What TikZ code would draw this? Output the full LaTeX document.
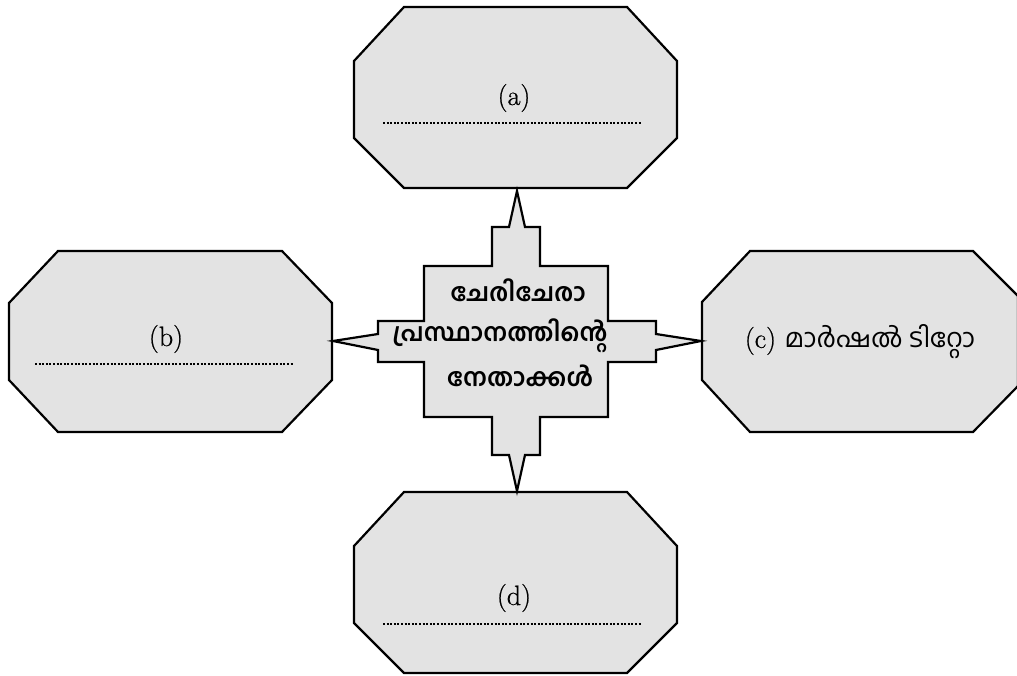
\documentclass[tikz,border=0pt]{standalone}
\usepackage{fontspec}
\setmainfont[FakeBold=0.7]{Latin Modern Roman}
\newfontfamily\mlfont[Script=Malayalam]{Hind Kochi}
\begin{document}
\begin{tikzpicture}[x=1pt,y=-1pt,
  shapebox/.style={draw=black,fill=black!11,line width=2.2pt,line join=miter},
  dotline/.style={line width=2pt,dash pattern=on 2pt off 1.6pt},
  lbl/.style={font=\fontsize{28}{32}\selectfont,inner sep=0pt},
  ctr/.style={font=\fontsize{25}{43}\selectfont\mlfont\bfseries,align=center,inner sep=0pt}]
\useasboundingbox (0,0) rectangle (1017,675);
\clip (0,0) rectangle (1017,675);
% octagon a
\draw[shapebox] (404,7) -- (627,7) -- (677,61) -- (677,138) -- (627,188) -- (404,188) -- (354,138) -- (354,61) -- cycle;
% octagon b
\draw[shapebox] (58,251) -- (282,251) -- (332,303) -- (332,380) -- (282,432) -- (58,432) -- (9,380) -- (9,303) -- cycle;
% octagon c
\draw[shapebox] (750,251) -- (973,251) -- (1018,296) -- (1018,386) -- (973,432) -- (750,432) -- (702,380) -- (702,302) -- cycle;
% octagon d
\draw[shapebox] (404,492) -- (627,492) -- (677,546) -- (677,623) -- (627,673) -- (404,673) -- (354,623) -- (354,546) -- cycle;
% centre star
\draw[shapebox] (517,191) -- (525,227) -- (540,227) -- (540,266) -- (608,266) -- (608,321) -- (656,321) -- (656,334) -- (701,341) -- (656,350) -- (656,362) -- (608,362) -- (608,417) -- (540,417) -- (540,455) -- (525,455) -- (517,491) -- (509,455) -- (492,455) -- (492,417) -- (424,417) -- (424,362) -- (378,362) -- (378,350) -- (333,341) -- (378,334) -- (378,321) -- (424,321) -- (424,266) -- (492,266) -- (492,227) -- (509,227) -- cycle;
% labels
\node[lbl] (a) at (514,98) {(a)};
\node[lbl] (b) at (166,339) {(b)};
\node[lbl] (d) at (514,598) {(d)};
\node[lbl] (c) at (860,342) {(c) {\fontsize{26}{30}\selectfont\mlfont മാർഷൽ ടിറ്റോ}};
\coordinate (a1) at (383,123); \coordinate (a2) at (642,123);
\coordinate (b1) at (35,364); \coordinate (b2) at (293,364);
\coordinate (d1) at (383,624); \coordinate (d2) at (642,624);
\draw[dotline] (a1) -- (a2);
\draw[dotline] (b1) -- (b2);
\draw[dotline] (d1) -- (d2);
\node[ctr] (l1) at (518,290) {ചേരിചേരാ};
\node[ctr] (l2) at (500,336) {പ്രസ്ഥാനത്തിന്റെ};
\node[ctr] (l3) at (520,376) {നേതാക്കൾ};
\end{tikzpicture}
\end{document}
